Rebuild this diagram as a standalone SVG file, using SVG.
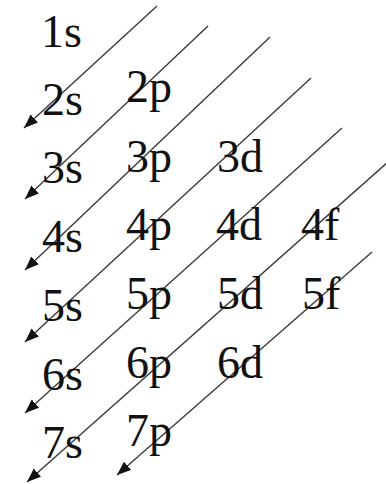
<svg xmlns="http://www.w3.org/2000/svg" width="386" height="484" viewBox="0 0 386 484">
<style>
.lbl{font-family:"Liberation Serif","Times New Roman",serif;font-size:46px;fill:#111}
.ln{stroke:#3a3a3a;stroke-width:1.4;fill:none}
</style>
<defs>
<marker id="ah" markerUnits="userSpaceOnUse" markerWidth="16" markerHeight="12" refX="14" refY="6" orient="auto">
<path d="M0,0.5 L14,6 L0,11.5 Z" fill="#111"/>
</marker>
</defs>
<rect width="386" height="484" fill="#fff"/>
<g id="connectors">
<line class="ln" x1="157" y1="6" x2="24" y2="128" marker-end="url(#ah)"/>
<line class="ln" x1="208" y1="26" x2="25" y2="199" marker-end="url(#ah)"/>
<line class="ln" x1="270" y1="37" x2="25" y2="270" marker-end="url(#ah)"/>
<line class="ln" x1="311" y1="78" x2="25" y2="342" marker-end="url(#ah)"/>
<line class="ln" x1="342" y1="128" x2="25" y2="413" marker-end="url(#ah)"/>
<line class="ln" x1="388" y1="162" x2="27" y2="482" marker-end="url(#ah)"/>
<line class="ln" x1="372" y1="252" x2="117" y2="475" marker-end="url(#ah)"/>
</g>
<g id="n1s"><text class="lbl" x="41" y="47">1s</text></g>
<g id="n2s"><text class="lbl" x="42" y="115">2s</text></g>
<g id="n2p"><text class="lbl" x="126" y="102">2p</text></g>
<g id="n3s"><text class="lbl" x="42" y="183">3s</text></g>
<g id="n3p"><text class="lbl" x="126" y="172">3p</text></g>
<g id="n3d"><text class="lbl" x="217" y="172">3d</text></g>
<g id="n4s"><text class="lbl" x="42" y="252">4s</text></g>
<g id="n4p"><text class="lbl" x="126" y="240">4p</text></g>
<g id="n4d"><text class="lbl" x="216" y="240">4d</text></g>
<g id="n4f"><text class="lbl" x="301" y="240">4f</text></g>
<g id="n5s"><text class="lbl" x="42" y="321">5s</text></g>
<g id="n5p"><text class="lbl" x="126" y="309">5p</text></g>
<g id="n5d"><text class="lbl" x="217" y="309">5d</text></g>
<g id="n5f"><text class="lbl" x="302" y="309">5f</text></g>
<g id="n6s"><text class="lbl" x="42" y="390">6s</text></g>
<g id="n6p"><text class="lbl" x="126" y="378">6p</text></g>
<g id="n6d"><text class="lbl" x="217" y="378">6d</text></g>
<g id="n7s"><text class="lbl" x="42" y="458">7s</text></g>
<g id="n7p"><text class="lbl" x="126" y="446">7p</text></g>
</svg>
